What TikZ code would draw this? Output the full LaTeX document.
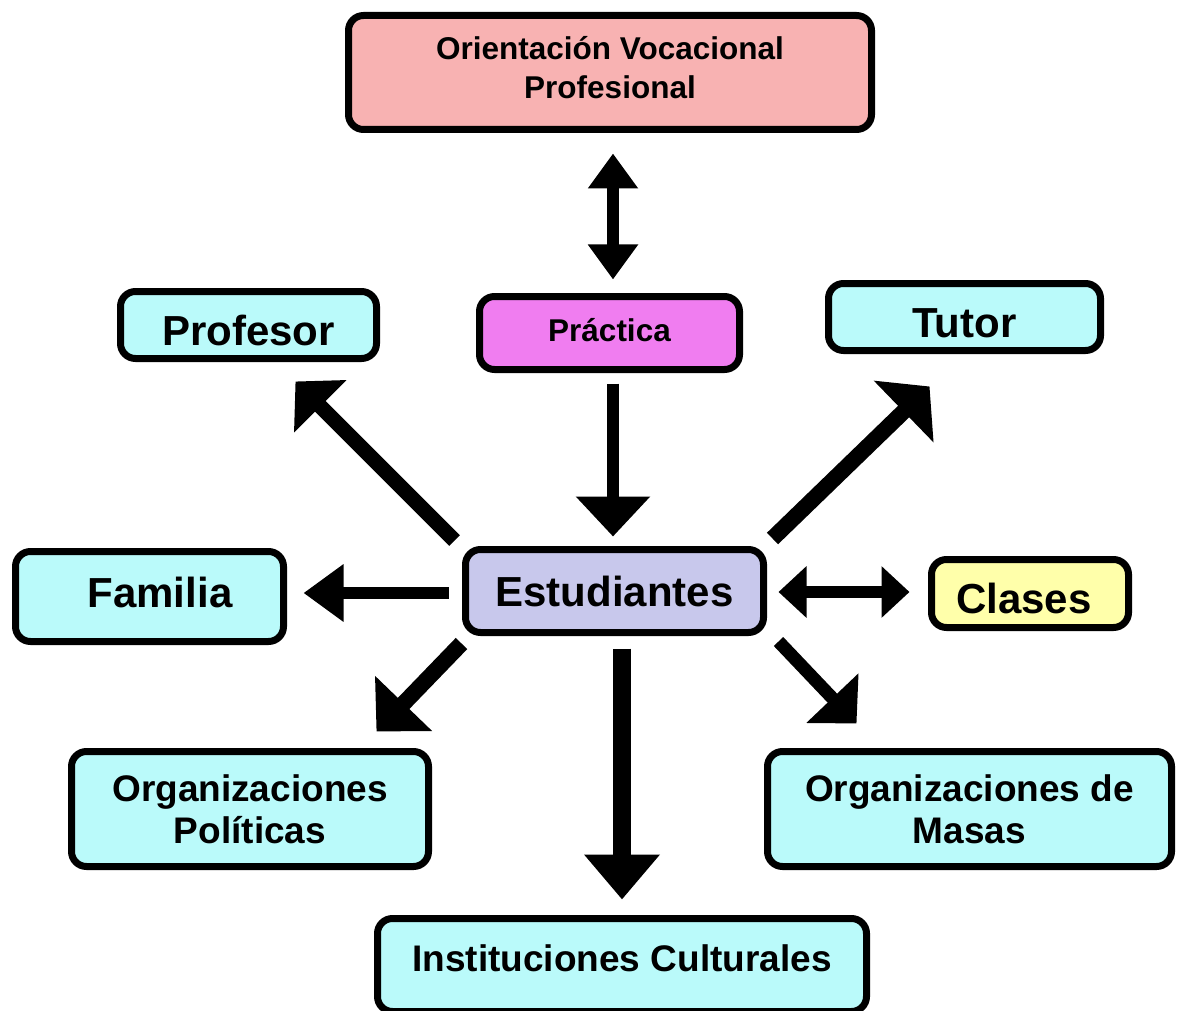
\documentclass[tikz,border=0pt]{standalone}
\usepackage{fontspec}
\setmainfont{Liberation Sans}
\usetikzlibrary{arrows.meta,calc}
\definecolor{cpink}{RGB}{248,178,178}
\definecolor{cmag}{RGB}{240,125,240}
\definecolor{clav}{RGB}{200,200,236}
\definecolor{ccyan}{RGB}{186,250,250}
\definecolor{cyell}{RGB}{255,255,170}
\newcommand{\lowered}[2]{\raisebox{#1}[0pt][0pt]{#2}}
\begin{document}
\begin{tikzpicture}[x=1pt,y=-1pt,
  box/.style={draw=black,line width=7pt,rounded corners=15pt,inner sep=0pt,align=center,font=\bfseries},
  big/.style={font=\bfseries\fontsize{42}{48}\selectfont},
  mid/.style={font=\bfseries\fontsize{37}{42}\selectfont},
  small/.style={font=\bfseries\fontsize{31.5}{39}\selectfont},
]
\useasboundingbox (0,0) rectangle (1178,1011);

\node[box,small,fill=cpink,minimum width=523pt,minimum height=114pt,text depth=10pt] (ori) at (610,72.5) {Orientación Vocacional\\Profesional};
\node[box,small,fill=cmag,minimum width=260pt,minimum height=73pt] (prac) at (609.5,333) {\lowered{-8pt}{Práctica}};
\node[box,big,fill=ccyan,minimum width=256pt,minimum height=67pt] (prof) at (248.5,325) {\lowered{-20pt}{Profesor}};
\node[box,big,fill=ccyan,minimum width=272pt,minimum height=67pt] (tutor) at (964.5,317) {\lowered{-20pt}{Tutor}};
\node[box,big,fill=ccyan,minimum width=268pt,minimum height=90pt] (fam) at (149.5,596.5) {\lowered{-10.5pt}{\hspace*{21pt}Familia}};
\node[box,big,fill=clav,minimum width=298pt,minimum height=83pt] (est) at (614.5,591) {Estudiantes};
\node[box,big,fill=cyell,minimum width=197pt,minimum height=68pt] (clases) at (1030,593.5) {\lowered{-19.5pt}{Clases\hspace*{12pt}}};
\node[box,mid,fill=ccyan,minimum width=357pt,minimum height=115pt] (orgpol) at (250,809) {Organizaciones\\Políticas};
\node[box,mid,fill=ccyan,minimum width=404pt,minimum height=115pt] (orgmas) at (969.5,809) {Organizaciones de\\Masas};
\node[box,mid,fill=ccyan,minimum width=489pt,minimum height=93pt] (inst) at (622,965) {\lowered{-6pt}{Instituciones Culturales}};

% Orientacion <-> Practica
\draw[line width=12pt,{Triangle[length=35pt,width=48pt]}-{Triangle[length=35pt,width=48pt]}]
  ($(ori.south)+(3,20.5)$) -- ($(prac.north)+(3.5,-13.5)$);
% Practica -> Estudiantes
\draw[line width=12pt,-{Triangle[length=40pt,width=72pt]}]
  ($(prac.south)+(3.5,10.5)$) -- ($(est.north)+(-1.5,-9.5)$);
% Estudiantes -> Profesor
\draw[line width=15pt,-{Triangle[length=35pt,width=72pt]}]
  ($(est.north west)+(-7.5,-5.5)$) -- ($(prof.south east)+(-84.5,19.5)$);
% Estudiantes -> Tutor
\draw[line width=16pt,-{Triangle[length=36pt,width=84pt]}]
  ($(est.north east)+(5.5,-7.5)$) -- ($(tutor.south west)+(104.5,32.5)$);
% Estudiantes -> Familia
\draw[line width=12pt,-{Triangle[length=40pt,width=55pt]}]
  ($(est.west)+(-13.5,2)$) -- ($(fam.east)+(16.5,-3.5)$);
% Estudiantes <-> Clases
\draw[line width=12pt,{Triangle[length=28pt,width=50pt]}-{Triangle[length=28pt,width=50pt]}]
  ($(est.east)+(11.5,1)$) -- ($(clases.west)+(-18.5,-1.5)$);
% Estudiantes -> Org Politicas
\draw[line width=16pt,-{Triangle[length=39pt,width=77pt]}]
  ($(est.south west)+(-0.5,7.5)$) -- ($(orgpol.north east)+(-55.5,-16.5)$);
% Estudiantes -> Instituciones
\draw[line width=18pt,-{Triangle[length=45pt,width=73pt]}]
  ($(est.south)+(7.5,12.5)$) -- ($(inst.north)+(0,-15.5)$);
% Estudiantes -> Org Masas
\draw[line width=13pt,-{Triangle[length=35pt,width=70pt]}]
  ($(est.south east)+(11.5,5.5)$) -- ($(orgmas.north west)+(92.5,-24.5)$);
\end{tikzpicture}
\end{document}
